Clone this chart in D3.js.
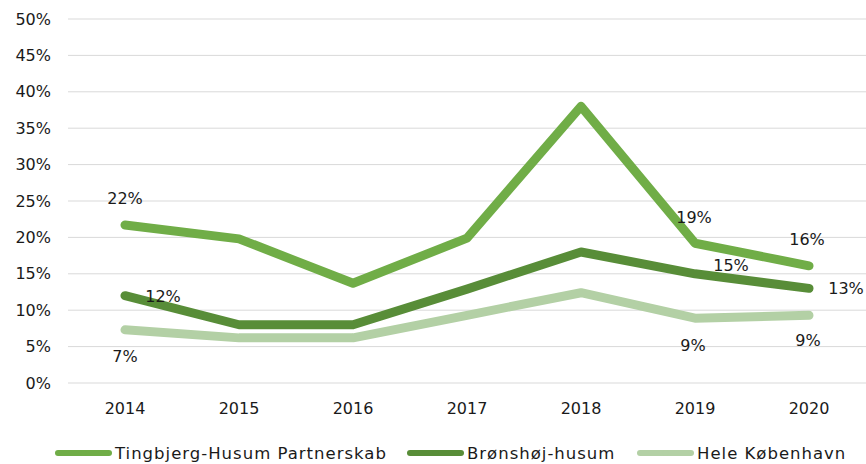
<!DOCTYPE html>
<html>
<head>
<meta charset="utf-8">
<script src="https://cdn.jsdelivr.net/npm/d3@7"></script>
<style>
body{margin:0;background:#fff;}
text{font-family:"DejaVu Sans",sans-serif;fill:#1a1a1a;}
</style>
</head>
<body>
<svg id="svgID" width="866" height="464"></svg>
<script>
var years=["2014","2015","2016","2017","2018","2019","2020"];
var tingbjerg=[0.217,0.198,0.137,0.199,0.380,0.192,0.161];
var bronshoj=[0.120,0.080,0.080,0.129,0.180,0.150,0.130];
var hele=[0.073,0.062,0.062,0.093,0.124,0.089,0.093];
var yTicks=[0,0.05,0.1,0.15,0.2,0.25,0.3,0.35,0.4,0.45,0.5];

var series=[
    {name:"Tingbjerg-Husum Partnerskab",values:tingbjerg,color:"#70ad47",
     labels:[[0,"22%",0,-27],[5,"19%",-1,-26],[6,"16%",-2,-26]]},
    {name:"Brønshøj-husum",values:bronshoj,color:"#588d38",
     labels:[[0,"12%",38,1],[5,"15%",36,-8],[6,"13%",37,0]]},
    {name:"Hele København",values:hele,color:"#b3d0a5",
     labels:[[0,"7%",0,27],[5,"9%",-2,27],[6,"9%",-1,25]]}
];

var svg=d3.select("#svgID");
var mLeft=68,mRight=866,mTop=19,mBottom=383;

var x=d3.scalePoint().domain(years).range([mLeft,mRight]).padding(0.5);
var y=d3.scaleLinear().domain([0,0.5]).range([mBottom,mTop]);

//gridlines
svg.append("g").selectAll("line").data(yTicks).enter().append("line")
    .attr("x1",mLeft).attr("x2",mRight)
    .attr("y1",function(d){return y(d);}).attr("y2",function(d){return y(d);})
    .attr("stroke","#d9d9d9").attr("stroke-width",1);

//y axis labels
svg.append("g").selectAll("text").data(yTicks).enter().append("text")
    .attr("x",51).attr("y",function(d){return y(d);})
    .attr("dy","0.35em").attr("text-anchor","end")
    .style("font-size","16px")
    .text(d3.format(".0%"));

//x axis labels
svg.append("g").selectAll("text").data(years).enter().append("text")
    .attr("x",function(d){return x(d);}).attr("y",414)
    .attr("text-anchor","middle")
    .style("font-size","16px")
    .text(function(d){return d;});

var line=d3.line()
    .x(function(d,i){return x(years[i]);})
    .y(function(d){return y(d);});

series.slice().reverse().forEach(function(s){
    svg.append("path").datum(s.values)
        .attr("d",line)
        .attr("fill","none")
        .attr("stroke",s.color)
        .attr("stroke-width",9)
        .attr("stroke-linecap","round")
        .attr("stroke-linejoin","round");
});

//data labels
series.forEach(function(s){
    s.labels.forEach(function(l){
        svg.append("text")
            .attr("x",x(years[l[0]])+l[2])
            .attr("y",y(s.values[l[0]])+l[3])
            .attr("dy","0.35em")
            .attr("text-anchor","middle")
            .style("font-size","16px")
            .text(l[1]);
    });
});

//legend
var legendX=[55,407,637];
series.forEach(function(s,i){
    var g=svg.append("g").attr("transform","translate("+legendX[i]+",453)");
    g.append("line").attr("x1",3).attr("x2",54).attr("y1",0).attr("y2",0)
        .attr("stroke",s.color).attr("stroke-width",6).attr("stroke-linecap","round");
    g.append("circle").attr("cx",28.5).attr("cy",0).attr("r",3).attr("fill",s.color);
    g.append("text").attr("x",60).attr("y",0).attr("dy","0.35em")
        .style("font-size","16.5px").style("letter-spacing","1px").text(s.name);
});
</script>
</body>
</html>
